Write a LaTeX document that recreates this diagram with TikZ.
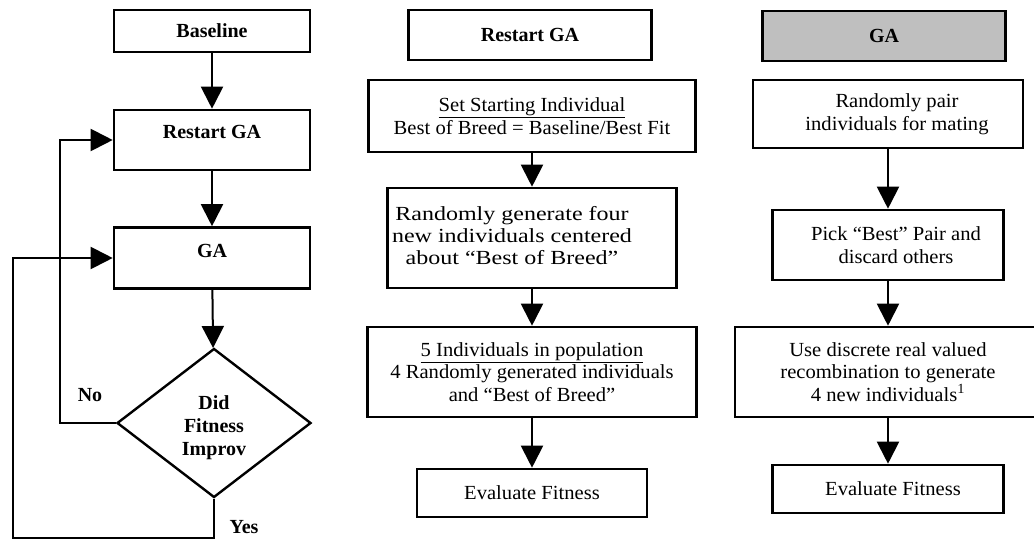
\documentclass[tikz,border=0pt]{standalone}
\usepackage{fontspec}
\setmainfont{Liberation Serif}[FakeStretch=1.03, BoldFeatures={FakeStretch=1.0}]
\usetikzlibrary{shapes,arrows.meta,positioning}

\begin{document}
\begin{tikzpicture}[x=1pt,y=-1pt,
    box/.style={draw, line width=2.6pt, align=center, inner sep=2pt, font=\fontsize{20}{22.5}\selectfont},
    title/.style={box, font=\fontsize{20}{22.5}\selectfont\bfseries},
    header/.style={title, font=\fontsize{20}{22.5}\selectfont\bfseries\addfontfeatures{FakeStretch=1.08}},
    flow/.style={line width=2pt, -{Triangle[length=22pt,width=22pt]}},
    lbl/.style={font=\fontsize{20}{23}\selectfont\bfseries}]
  \useasboundingbox (0,0) rectangle (1034,543);
  \clip (0,0) rectangle (1034,543);

  % Main loop
  \node[title, minimum width=196pt, minimum height=42pt] (base) at (212,31) {Baseline};
  \node[title, minimum width=196pt, minimum height=60pt, text height=13pt, text depth=15pt] (rgaL) at (212,140) {Restart GA};
  \node[title, minimum width=196pt, minimum height=61pt, text height=13pt, text depth=15pt] (gaL) at (212,258) {GA};
  \node[draw, diamond, line width=2.4pt, minimum width=194pt, minimum height=149pt, inner sep=0pt, lbl, text height=44.5pt, text depth=24.5pt] (imp) at (214,423) {\begin{tabular}{@{}c@{}}Did\\Fitness\\Improv\end{tabular}};
  \draw[flow] (base) -- (rgaL);
  \draw[flow] (rgaL) -- (gaL);
  \draw[flow] (gaL) -- (imp);

  % No / Yes branches
  \coordinate (noBend) at (60,140);
  \coordinate (yesBend) at (13,538);
  \draw[flow] (imp.west) -| (noBend) -- (rgaL.west);
  \draw[flow] (imp.south) |- (yesBend) |- (gaL.west);
  \node[lbl] (no) at (90,395) {No};
  \node[lbl] (yes) at (244,527) {Yes};

  % Restart GA
  \node[header, minimum width=243pt, minimum height=50pt] (hdrR) at (530,35) {Restart GA};
  \node[box, minimum width=327pt, minimum height=72pt] (start) at (532,116) {\underline{Set Starting Individual}\\Best of Breed = Baseline/Best Fit};
  \node[box, minimum width=289pt, minimum height=100pt, font=\fontsize{20}{21.7}\selectfont\addfontfeatures{FakeStretch=1.2}] (gen) at (532,238) {\begin{tabular}{@{}c@{\hspace{40pt}}}Randomly generate four\\new individuals centered\\about ``Best of Breed''\end{tabular}};
  \node[box, minimum width=329pt, minimum height=90pt] (pop) at (532,372) {\underline{5 Individuals in population}\\4 Randomly generated individuals\\and ``Best of Breed''};
  \node[box, minimum width=230pt, minimum height=48pt] (evalM) at (532,493) {Evaluate Fitness};
  \draw[flow] (start) -- (gen);
  \draw[flow] (gen) -- (pop);
  \draw[flow] (pop) -- (evalM);

  % GA
  \node[header, fill=black!25, minimum width=243pt, minimum height=50pt] (hdrG) at (884,36) {GA};
  \node[box, minimum width=270pt, minimum height=68pt] (pair) at (888,114) {\hspace*{18pt}Randomly pair\\\hspace*{18pt}individuals for mating};
  \node[box, minimum width=231pt, minimum height=70pt] (pick) at (888,245) {\hspace*{16pt}Pick ``Best'' Pair and\\\hspace*{16pt}discard others};
  \node[box, minimum width=306pt, minimum height=90pt] (disc) at (888,372) {Use discrete real valued\\recombination to generate\\4 new individuals\textsuperscript{1}};
  \node[box, minimum width=231pt, minimum height=48pt] (evalR) at (888,489) {\hspace*{10pt}Evaluate Fitness};
  \draw[flow] (pair) -- (pick);
  \draw[flow] (pick) -- (disc);
  \draw[flow] (disc) -- (evalR);
\end{tikzpicture}
\end{document}
